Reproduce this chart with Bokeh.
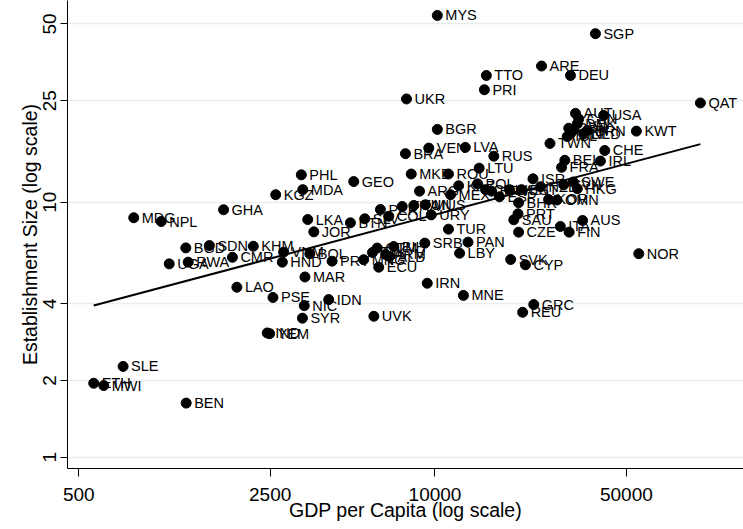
import numpy as np
from bokeh.plotting import figure
from bokeh.models import ColumnDataSource, FixedTicker, NumeralTickFormatter, Range1d
from bokeh.core.properties import value
from bokeh.embed import file_html
from bokeh.resources import INLINE

countries = ["MYS","SGP","ARE","DEU","TTO","PRI","UKR","QAT","AUT","USA","CAN","DNK","GBR","JPN","MLT",
             "ISL","BRN","NLD","KWT","BGR","VEN","LVA","BRA","RUS","TWN","CHE","BEL","IRL","FRA","LTU",
             "MKD","ROU","PHL","ISR","SWE","GEO","HKG","SVN","MDA","ARG","KAZ","POL","CHL","HRV","ESP",
             "MEX","HUN","EST","NZL","KGZ","KOR","OMN","BHR","PER","THA","TUN","MUS","GHA","PRT","URY",
             "COL","SLV","MDG","LKA","SAU","AUS","NPL","BTN","ITA","TUR","JOR","CZE","FIN","SRB","PAN",
             "BIH","GTM","KHM","SDN","BGD","VNM","BOL","TJK","ARM","ALB","LBY","NOR","CMR","SVK","MNG",
             "PRY","HND","RWA","UGA","CYP","ECU","MAR","IRN","LAO","MNE","PSE","IDN","GRC","NIC","REU",
             "UVK","SYR","IND","YEM","SLE","ETH","MWI","BEN"]
gdp_per_capita = [10200,38550,24500,31250,15400,15150,7870,93200,32600,41300,33500,33100,30800,32100,31250,
                  30400,35950,34900,54400,10200,9490,12900,7800,16400,26300,41700,29800,40200,29000,14500,
                  8190,11200,3250,22800,32000,5050,33100,29500,3290,8780,12200,14300,15300,16100,17200,
                  11400,18700,20700,24300,2620,26000,27900,20200,6320,7590,8370,9230,1690,20100,9690,
                  6780,5540,794,3430,19400,34600,1000,4910,28700,11200,3610,20200,30900,9180,13200,
                  7070,6150,2170,1500,1230,2800,3490,5910,6600,6820,12300,55500,1820,18900,5490,
                  4210,2770,1255,1070,21400,6230,3350,9370,1890,12700,2560,4090,22950,3330,20900,
                  5980,3280,2440,2490,726,567,617,1234]
establishment_size = [54.0,45.8,34.2,31.4,31.4,27.6,25.4,24.5,22.3,21.9,21.2,20.3,19.5,19.2,18.55,
                      18.1,19.1,18.55,19.0,19.3,16.3,16.4,15.5,15.15,17.0,15.95,14.6,14.5,13.7,13.6,
                      12.9,12.9,12.8,12.35,12.0,12.05,11.3,11.7,11.2,11.05,11.6,11.8,11.2,11.05,10.5,
                      10.7,11.2,11.2,11.5,10.7,10.25,10.2,9.95,9.36,9.62,9.71,9.77,9.34,9.0,8.92,
                      8.81,8.61,8.69,8.55,8.53,8.48,8.4,8.3,8.03,7.84,7.65,7.63,7.63,6.91,6.97,
                      6.7,6.61,6.72,6.76,6.62,6.37,6.28,6.35,6.24,6.12,6.31,6.28,6.08,5.96,5.95,
                      5.87,5.82,5.82,5.73,5.68,5.56,5.09,4.81,4.64,4.31,4.23,4.15,3.97,3.93,3.70,
                      3.57,3.51,3.07,3.05,2.27,1.95,1.91,1.63]

x_ticks = [500, 2500, 10000, 50000]
y_ticks = [1, 2, 4, 10, 25, 50]

# fitted line (log10 size = a + b log10 gdp)
fit_intercept = -0.1919
fit_slope = 0.2857

FONT = "Liberation Sans"

src = ColumnDataSource(dict(x=gdp_per_capita, y=establishment_size, name=countries))

p = figure(width=743, height=529, x_axis_type="log", y_axis_type="log",
           x_range=Range1d(454.8, 133900), y_range=Range1d(0.903, 61.8),
           output_backend="svg", toolbar_location=None,
           min_border_left=67, min_border_right=0, min_border_top=0, min_border_bottom=61)
p.outline_line_color = None
p.background_fill_color = "white"

gx = np.array([min(gdp_per_capita), max(gdp_per_capita)], dtype=float)
gy = 10 ** (fit_intercept + fit_slope * np.log10(gx))
p.line(gx, gy, line_color="black", line_width=2)

p.scatter("x", "y", source=src, size=10, fill_color="black", line_color="black")
p.text("x", "y", text="name", source=src, x_offset=8, text_baseline="middle", text_align="left",
       text_font=value(FONT), text_font_size="14.5px", text_color="black")

p.xaxis.ticker = FixedTicker(ticks=x_ticks)
p.yaxis.ticker = FixedTicker(ticks=y_ticks)
p.xaxis.formatter = NumeralTickFormatter(format="0")
p.yaxis.formatter = NumeralTickFormatter(format="0")
p.xgrid.visible = False
p.ygrid.ticker = FixedTicker(ticks=y_ticks)
p.ygrid.grid_line_color = "#e6eef0"
p.ygrid.grid_line_width = 1.5

for ax in (p.xaxis, p.yaxis):
    ax.axis_line_color = "black"
    ax.axis_line_width = 1
    ax.major_tick_line_color = "black"
    ax.minor_tick_line_color = None
    ax.major_tick_in = 0
    ax.major_label_text_font = FONT
    ax.major_label_text_font_size = "19px"
    ax.major_label_text_color = "black"
    ax.axis_label_text_font = FONT
    ax.axis_label_text_font_size = "19.5px"
    ax.axis_label_text_font_style = "normal"
    ax.axis_label_text_color = "black"

p.xaxis.major_tick_out = 8
p.yaxis.major_tick_out = 7
p.xaxis.major_label_standoff = 11
p.xaxis.axis_label_standoff = -5
p.yaxis.major_label_standoff = 4
p.yaxis.axis_label_standoff = 0
p.yaxis.major_label_orientation = "vertical"
p.xaxis.axis_label = "GDP per Capita (log scale)"
p.yaxis.axis_label = "Establishment Size (log scale)"

open("out.html", "w").write(file_html(p, INLINE))
